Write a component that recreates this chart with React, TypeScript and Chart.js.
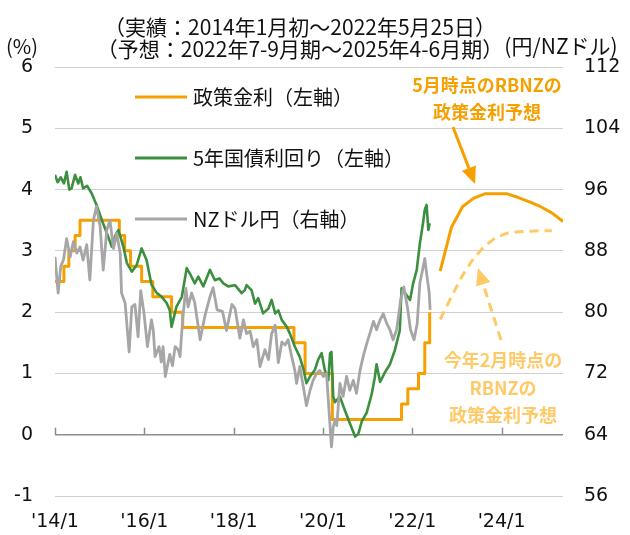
import React, { useEffect, useRef } from 'react';
import { Chart, registerables } from 'chart.js';

Chart.register(...registerables);

const FONT_NUM = '"DejaVu Sans", Verdana, sans-serif';
const FONT_JP = '"Noto Sans CJK JP", "Noto Sans", sans-serif';

const ORANGE = '#F5A000';
const ORANGE_LIGHT = '#FFC966';
const GREEN = '#3D8F40';
const GRAY = '#A6A6A6';

// ---- Data (decimal years) ----
const ocrDates = [2014.0, 2014.2, 2014.31, 2014.45, 2014.56, 2015.44, 2015.56, 2015.69, 2015.94, 2016.19, 2016.61, 2016.86, 2019.35, 2019.6, 2020.21, 2021.76, 2021.9, 2022.14, 2022.28, 2022.39];
const ocrRate = [2.5, 2.75, 3.0, 3.25, 3.5, 3.25, 3.0, 2.75, 2.5, 2.25, 2.0, 1.75, 1.5, 1.0, 0.25, 0.5, 0.75, 1.0, 1.5, 2.0];

const bondDates = [
  2014.0, 2014.06, 2014.13, 2014.2, 2014.26, 2014.32, 2014.37, 2014.45, 2014.52, 2014.57,
  2014.63, 2014.72, 2014.82, 2014.93, 2015.05, 2015.16, 2015.27, 2015.35, 2015.42, 2015.53,
  2015.61, 2015.72, 2015.83, 2015.94, 2016.05, 2016.16, 2016.28, 2016.39, 2016.5, 2016.57,
  2016.61, 2016.72, 2016.84, 2016.95, 2017.02, 2017.13, 2017.21, 2017.32, 2017.47, 2017.58,
  2017.68, 2017.77, 2017.88, 2018.03, 2018.18, 2018.25, 2018.29, 2018.4, 2018.48, 2018.55,
  2018.66, 2018.78, 2018.85, 2018.93, 2019.0, 2019.08, 2019.19, 2019.26, 2019.37, 2019.48,
  2019.56, 2019.63, 2019.71, 2019.82, 2019.89, 2019.97, 2020.04, 2020.12, 2020.16, 2020.19,
  2020.23, 2020.27, 2020.38, 2020.49, 2020.6, 2020.72, 2020.79, 2020.87, 2020.98, 2021.09,
  2021.16, 2021.2, 2021.28, 2021.39, 2021.5, 2021.61, 2021.72, 2021.76, 2021.84, 2021.95,
  2022.02, 2022.1, 2022.17, 2022.24, 2022.28, 2022.32, 2022.36, 2022.39,
];
const bondYield = [
  4.24, 4.12, 4.2, 4.1, 4.29, 4.0, 4.02, 4.24, 4.1, 4.2,
  4.02, 4.06, 3.94, 3.75, 3.5, 3.29, 3.07, 3.25, 3.34, 3.07,
  2.8, 2.66, 2.77, 3.04, 2.85, 2.45, 2.31, 2.25, 2.15, 2.03,
  1.76, 2.09, 2.25, 2.72, 2.63, 2.47, 2.58, 2.42, 2.69, 2.52,
  2.55, 2.47, 2.42, 2.44, 2.31, 2.36, 2.44, 2.36, 2.14, 2.23,
  1.98, 2.06, 2.2, 1.98, 2.03, 1.87, 1.76, 1.65, 1.44, 1.27,
  1.08, 0.84, 0.95, 1.06, 1.22, 1.33, 1.06, 0.89, 1.33, 1.35,
  0.62, 0.53, 0.62, 0.4, 0.19, -0.03, 0.01, 0.22, 0.36, 0.66,
  0.93, 1.15, 0.86, 1.02, 1.15, 1.38, 1.7, 2.39, 2.31, 2.2,
  2.47, 2.69, 3.12, 3.45, 3.67, 3.75, 3.34, 3.45,
];

const fxDates = [
  2014.0, 2014.07, 2014.13, 2014.19, 2014.26, 2014.34, 2014.41, 2014.49, 2014.56, 2014.63,
  2014.71, 2014.78, 2014.86, 2014.93, 2015.01, 2015.08, 2015.16, 2015.23, 2015.31, 2015.38,
  2015.46, 2015.49, 2015.57, 2015.66, 2015.72, 2015.79, 2015.86, 2015.92, 2015.99, 2016.07,
  2016.16, 2016.2, 2016.24, 2016.33, 2016.38, 2016.42, 2016.47, 2016.57, 2016.63, 2016.69,
  2016.76, 2016.8, 2016.86, 2016.93, 2016.98, 2017.06, 2017.13, 2017.25, 2017.36, 2017.47,
  2017.54, 2017.63, 2017.75, 2017.84, 2017.96, 2018.03, 2018.14, 2018.22, 2018.29, 2018.37,
  2018.44, 2018.52, 2018.59, 2018.7, 2018.78, 2018.85, 2018.93, 2019.0, 2019.08, 2019.15,
  2019.22, 2019.3, 2019.37, 2019.41, 2019.48, 2019.56, 2019.63, 2019.71, 2019.78, 2019.86,
  2019.93, 2020.01, 2020.08, 2020.14, 2020.19, 2020.23, 2020.27, 2020.31, 2020.38, 2020.45,
  2020.53, 2020.6, 2020.68, 2020.75, 2020.83, 2020.9, 2020.98, 2021.05, 2021.13, 2021.2,
  2021.28, 2021.35, 2021.43, 2021.5, 2021.57, 2021.65, 2021.74, 2021.81, 2021.89, 2021.96,
  2022.04, 2022.11, 2022.17, 2022.23, 2022.28, 2022.32, 2022.38, 2022.4,
];
const fxRate = [
  87.2, 82.5, 86.0, 86.8, 89.6, 87.2, 89.2, 87.7, 88.5, 86.8,
  88.8, 84.2, 92.0, 93.8, 91.2, 85.5, 90.7, 92.0, 88.3, 90.3,
  87.7, 82.5, 81.2, 74.8, 80.7, 81.0, 76.8, 82.8, 80.0, 75.5,
  79.0, 77.7, 74.2, 75.5, 73.5, 75.5, 71.6, 74.5, 73.0, 75.5,
  75.1, 74.2, 79.2, 83.1, 80.7, 82.5, 81.2, 76.4, 79.6, 82.0,
  83.2, 80.3, 80.1, 77.6, 81.0, 80.5, 76.6, 79.0, 77.2, 77.5,
  75.5, 76.4, 72.9, 75.1, 73.8, 77.2, 78.3, 73.4, 76.1, 75.7,
  76.4, 74.2, 72.4, 70.7, 72.9, 70.3, 67.8, 69.8, 71.1, 72.0,
  72.4, 71.6, 72.0, 66.8, 62.4, 65.0, 65.9, 65.2, 70.7, 69.0,
  71.6, 69.8, 71.1, 69.4, 72.4, 74.2, 75.9, 77.2, 78.8, 77.7,
  79.0, 79.8, 78.5, 77.7, 76.4, 77.7, 81.6, 83.3, 80.7, 77.7,
  76.4, 78.5, 83.8, 85.5, 87.0, 85.1, 82.5, 80.3,
];

// Forecast quarters 2022 Q3 .. 2025 Q2 (plotted mid-quarter)
const quarterDates = [2022.625, 2022.875, 2023.125, 2023.375, 2023.625, 2023.875, 2024.125, 2024.375, 2024.625, 2024.875, 2025.125, 2025.375];
const mayForecast = [2.67, 3.38, 3.72, 3.86, 3.93, 3.93, 3.93, 3.87, 3.8, 3.72, 3.62, 3.48];
const febForecast = [1.88, 2.25, 2.6, 2.88, 3.08, 3.22, 3.29, 3.31, 3.32, 3.33, 3.33];

const xTickYears = [2014, 2016, 2018, 2020, 2022, 2024];

const titleLines = ['（実績：2014年1月初～2022年5月25日）', '（予想：2022年7-9月期～2025年4-6月期）'];
const leftUnit = '(%)';
const rightUnit = '(円/NZドル)';
const legendItems = [
  { text: '政策金利（左軸）', color: ORANGE },
  { text: '5年国債利回り（左軸）', color: GREEN },
  { text: 'NZドル円（右軸）', color: GRAY },
];
const noteMay = ['5月時点のRBNZの', '政策金利予想'];
const noteFeb = ['今年2月時点の', 'RBNZの', '政策金利予想'];

const toXY = (xs: number[], ys: number[]) => ys.map((y, i) => ({ x: xs[i], y }));

function drawArrow(ctx: CanvasRenderingContext2D, x1: number, y1: number, x2: number, y2: number, color: string, dash: number[]) {
  const ang = Math.atan2(y2 - y1, x2 - x1);
  const headLen = 17;
  const headHalf = 7.5;
  const bx = x2 - Math.cos(ang) * headLen;
  const by = y2 - Math.sin(ang) * headLen;
  ctx.save();
  ctx.strokeStyle = color;
  ctx.fillStyle = color;
  ctx.lineWidth = 3;
  ctx.setLineDash(dash);
  ctx.beginPath();
  ctx.moveTo(x1, y1);
  ctx.lineTo(bx, by);
  ctx.stroke();
  ctx.setLineDash([]);
  ctx.beginPath();
  ctx.moveTo(x2, y2);
  ctx.lineTo(bx + Math.sin(ang) * headHalf, by - Math.cos(ang) * headHalf);
  ctx.lineTo(bx - Math.sin(ang) * headHalf, by + Math.cos(ang) * headHalf);
  ctx.closePath();
  ctx.fill();
  ctx.restore();
}

const decorPlugin = {
  id: 'decor',
  beforeDatasetsDraw(chart: any) {
    const { ctx, scales } = chart;
    const x = scales.x;
    const y0 = scales.yL.getPixelForValue(0);
    ctx.save();
    ctx.strokeStyle = '#8C8C8C';
    ctx.lineWidth = 1.5;
    for (const t of xTickYears) {
      const px = Math.round(x.getPixelForValue(t)) + 0.5;
      ctx.beginPath();
      ctx.moveTo(px, y0);
      ctx.lineTo(px, y0 - 7);
      ctx.stroke();
    }
    ctx.restore();
  },
  afterDraw(chart: any) {
    const { ctx } = chart;
    ctx.save();
    ctx.fillStyle = '#111';
    ctx.textBaseline = 'middle';
    ctx.textAlign = 'center';
    ctx.font = `21px ${FONT_JP}`;
    ctx.fillText(titleLines[0], 300, 27);
    ctx.fillText(titleLines[1], 300, 49);
    ctx.font = `20px ${FONT_JP}`;
    ctx.fillText(leftUnit, 22, 46);
    ctx.font = `21px ${FONT_JP}`;
    ctx.fillText(rightUnit, 561, 46);

    // legend
    ctx.textAlign = 'left';
    ctx.font = `20px ${FONT_JP}`;
    const rows = [97, 158, 219];
    legendItems.forEach((it, i) => {
      ctx.strokeStyle = it.color;
      ctx.lineWidth = 3;
      ctx.beginPath();
      ctx.moveTo(135, rows[i]);
      ctx.lineTo(187, rows[i]);
      ctx.stroke();
      ctx.fillStyle = '#111';
      ctx.fillText(it.text, 193, rows[i]);
    });

    // annotations
    ctx.textAlign = 'center';
    ctx.font = `bold 18px ${FONT_JP}`;
    ctx.fillStyle = ORANGE;
    ctx.fillText(noteMay[0], 487, 85);
    ctx.fillText(noteMay[1], 487, 112);
    ctx.fillStyle = ORANGE_LIGHT;
    ctx.fillText(noteFeb[0], 503, 360);
    ctx.fillText(noteFeb[1], 503, 388);
    ctx.fillText(noteFeb[2], 503, 415);
    ctx.restore();

    drawArrow(ctx, 453, 127, 475, 184, ORANGE, []);
    drawArrow(ctx, 501, 340, 478, 268, ORANGE_LIGHT, [9, 6]);
  },
};

export default function App() {
  const ref = useRef<HTMLCanvasElement | null>(null);
  useEffect(() => {
    document.body.style.margin = '0';
    if (!ref.current) return;
    const tickFont = { family: FONT_NUM, size: 19 };
    const chart = new Chart(ref.current, {
      type: 'line',
      data: {
        datasets: [
          { label: 'NZドル円（右軸）', data: toXY(fxDates, fxRate), yAxisID: 'yR', borderColor: GRAY, borderWidth: 2.8, pointRadius: 0 },
          { label: '5年国債利回り（左軸）', data: toXY(bondDates, bondYield), yAxisID: 'yL', borderColor: GREEN, borderWidth: 2.6, pointRadius: 0 },
          { label: '政策金利（左軸）', data: toXY(ocrDates, ocrRate), yAxisID: 'yL', borderColor: ORANGE, borderWidth: 3, pointRadius: 0, stepped: 'before' },
          { label: '5月時点予想', data: toXY(quarterDates, mayForecast), yAxisID: 'yL', borderColor: ORANGE, borderWidth: 3, pointRadius: 0 },
          { label: '2月時点予想', data: toXY(quarterDates, febForecast), yAxisID: 'yL', borderColor: ORANGE_LIGHT, borderWidth: 3, pointRadius: 0, borderDash: [9, 6] },
        ] as any,
      },
      options: {
        animation: false,
        responsive: false,
        layout: { padding: { top: 67, left: 0, right: 0, bottom: 0 } },
        plugins: { legend: { display: false }, tooltip: { enabled: false }, title: { display: false } },
        elements: { line: { tension: 0, borderJoinStyle: 'round' } },
        scales: {
          x: {
            type: 'linear',
            position: 'bottom',
            min: 2014,
            max: 2025.375,
            grid: { display: false, drawTicks: false },
            border: { display: false },
            ticks: {
              padding: 15,
              font: tickFont,
              color: '#111',
              maxRotation: 0,
              autoSkip: false,
              callback: (v: any) => `'${String(v).slice(2)}/1`,
            },
            afterBuildTicks: (s: any) => { s.ticks = xTickYears.map((v) => ({ value: v })); },
            afterFit: (s: any) => { s.height = 39; },
          },
          yL: {
            position: 'left',
            min: -1,
            max: 6,
            ticks: { stepSize: 1, padding: 22, font: tickFont, color: '#111' },
            grid: {
              drawTicks: false,
              color: (c: any) => (c.tick && c.tick.value === 0 ? '#8C8C8C' : '#D0D0D0'),
              lineWidth: (c: any) => (c.tick && c.tick.value === 0 ? 1.5 : 1),
            },
            border: { display: false },
            afterFit: (s: any) => { s.width = 55; },
          },
          yR: {
            position: 'right',
            min: 56,
            max: 112,
            ticks: { stepSize: 8, padding: 21, font: tickFont, color: '#111' },
            grid: { display: false, drawTicks: false },
            border: { display: false },
            afterFit: (s: any) => { s.width = 67; },
          },
        },
      } as any,
      plugins: [decorPlugin],
    });
    return () => chart.destroy();
  }, []);
  return (
    <div style={{ width: 630, height: 535 }}>
      <canvas ref={ref} width={630} height={535} style={{ display: 'block' }} />
    </div>
  );
}
